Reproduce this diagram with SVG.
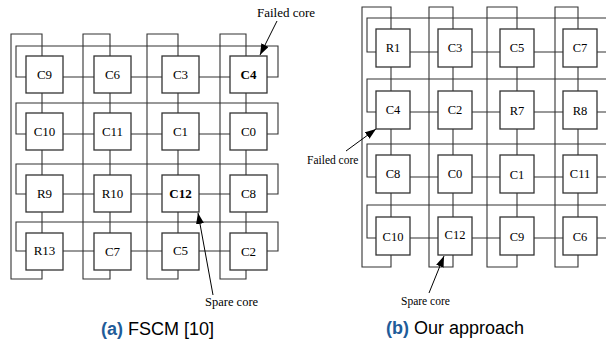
<svg xmlns="http://www.w3.org/2000/svg" width="606" height="343" viewBox="0 0 606 343">
<style>
.box{fill:#fff;stroke:#333;stroke-width:1.3}
.ln{fill:none;stroke:#333;stroke-width:1.1}
.lt{font-family:"Liberation Serif","Times New Roman",serif;font-size:13px;fill:#000;text-anchor:middle}
.rt{font-family:"Liberation Serif","Times New Roman",serif;font-size:12.5px;fill:#000;text-anchor:middle}
.b{font-weight:bold}
.lab{font-family:"Liberation Serif","Times New Roman",serif;fill:#000}
.arr{fill:none;stroke:#000;stroke-width:1;marker-end:url(#ah)}
.cap{font-family:"Liberation Sans",Arial,sans-serif;font-size:18px;fill:#000}
.capb{font-weight:bold;fill:#1f5c99}
</style>
<defs>
<marker id="ah" markerUnits="userSpaceOnUse" markerWidth="12" markerHeight="10" refX="11" refY="4" orient="auto">
<path d="M0,0 L11,4 L0,8 Z" fill="#000"/>
</marker>
</defs>
<rect width="606" height="343" fill="#fff"/>

<g id="connectors">
<!-- left: row links -->
<path class="ln" d="M63 77H94M131 77H162M199 77H230"/>
<path class="ln" d="M63 134H94M131 134H162M199 134H230"/>
<path class="ln" d="M63 194H94M131 194H162M199 194H230"/>
<path class="ln" d="M63 251H94M131 251H162M199 251H230"/>
<!-- left: column links -->
<path class="ln" d="M42 93V113M42 150V175M42 212V233"/>
<path class="ln" d="M110 93V113M110 150V175M110 212V233"/>
<path class="ln" d="M178 93V113M178 150V175M178 212V233"/>
<path class="ln" d="M246 93V113M246 150V175M246 212V233"/>
<!-- left: row wraps -->
<path class="ln" d="M26 77H16V46H278V77H267"/>
<path class="ln" d="M26 134H16V103H278V134H267"/>
<path class="ln" d="M26 194H16V164H278V194H267"/>
<path class="ln" d="M26 251H16V222H278V251H267"/>
<!-- left: column wraps -->
<path class="ln" d="M42 56V34H11V279H42V270"/>
<path class="ln" d="M110 56V34H83V279H110V270"/>
<path class="ln" d="M178 56V34H147V279H178V270"/>
<path class="ln" d="M246 56V34H220V279H246V270"/>

<!-- right: row links -->
<path class="ln" d="M410 52H438M472 52H500M534 52H563M597 52H606"/>
<path class="ln" d="M410 112H438M472 112H500M534 112H563M597 112H606"/>
<path class="ln" d="M410 177H438M472 177H500M534 177H563M597 177H606"/>
<path class="ln" d="M410 238H438M472 238H500M534 238H563M597 238H606"/>
<!-- right: column links -->
<path class="ln" d="M391 67V91M391 129V155M391 193V217"/>
<path class="ln" d="M453 67V91M453 129V155M453 193V217"/>
<path class="ln" d="M517 67V91M517 129V155M517 193V217"/>
<path class="ln" d="M578 67V91M578 129V155M578 193V217"/>
<!-- right: row wraps -->
<path class="ln" d="M376 52H367V18H606"/>
<path class="ln" d="M376 112H367V79H606"/>
<path class="ln" d="M376 177H367V144H606"/>
<path class="ln" d="M376 238H367V205H606"/>
<!-- right: column wraps -->
<path class="ln" d="M391 29V7H362V267H391V255"/>
<path class="ln" d="M453 29V7H429V267H453V255"/>
<path class="ln" d="M517 29V7H487V267H517V255"/>
<path class="ln" d="M578 29V7H555V267H578V255"/>

<!-- annotation arrows -->
<path class="arr" d="M277 21L260 55"/>
<path class="arr" d="M213 295L198 213"/>
<path class="arr" d="M346 151L376 129"/>
<path class="arr" d="M429 293L444 256"/>
</g>

<!-- left grid nodes -->
<g id="L-C9"><rect class="box" x="26" y="56" width="37" height="37"/><text class="lt" x="44.5" y="79">C9</text></g>
<g id="L-C6"><rect class="box" x="94" y="56" width="37" height="37"/><text class="lt" x="112.5" y="79">C6</text></g>
<g id="L-C3"><rect class="box" x="162" y="56" width="37" height="37"/><text class="lt" x="180.5" y="79">C3</text></g>
<g id="L-C4"><rect class="box" x="230" y="56" width="37" height="37"/><text class="lt b" x="248.5" y="79">C4</text></g>

<g id="L-C10"><rect class="box" x="26" y="113" width="37" height="37"/><text class="lt" x="44.5" y="136">C10</text></g>
<g id="L-C11"><rect class="box" x="94" y="113" width="37" height="37"/><text class="lt" x="112.5" y="136">C11</text></g>
<g id="L-C1"><rect class="box" x="162" y="113" width="37" height="37"/><text class="lt" x="180.5" y="136">C1</text></g>
<g id="L-C0"><rect class="box" x="230" y="113" width="37" height="37"/><text class="lt" x="248.5" y="136">C0</text></g>

<g id="L-R9"><rect class="box" x="26" y="175" width="37" height="37"/><text class="lt" x="44.5" y="198">R9</text></g>
<g id="L-R10"><rect class="box" x="94" y="175" width="37" height="37"/><text class="lt" x="112.5" y="198">R10</text></g>
<g id="L-C12"><rect class="box" x="162" y="175" width="37" height="37"/><text class="lt b" x="180.5" y="198">C12</text></g>
<g id="L-C8"><rect class="box" x="230" y="175" width="37" height="37"/><text class="lt" x="248.5" y="198">C8</text></g>

<g id="L-R13"><rect class="box" x="26" y="233" width="37" height="37"/><text class="lt" x="44.5" y="255">R13</text></g>
<g id="L-C7"><rect class="box" x="94" y="233" width="37" height="37"/><text class="lt" x="112.5" y="256">C7</text></g>
<g id="L-C5"><rect class="box" x="162" y="233" width="37" height="37"/><text class="lt" x="180.5" y="255">C5</text></g>
<g id="L-C2"><rect class="box" x="230" y="233" width="37" height="37"/><text class="lt" x="248.5" y="256">C2</text></g>

<!-- right grid nodes -->
<g id="R-R1"><rect class="box" x="376" y="29" width="34" height="38"/><text class="rt" x="393" y="52">R1</text></g>
<g id="R-C3"><rect class="box" x="438" y="29" width="34" height="38"/><text class="rt" x="455" y="52">C3</text></g>
<g id="R-C5"><rect class="box" x="500" y="29" width="34" height="38"/><text class="rt" x="517" y="52">C5</text></g>
<g id="R-C7"><rect class="box" x="563" y="29" width="34" height="38"/><text class="rt" x="580" y="52">C7</text></g>

<g id="R-C4"><rect class="box" x="376" y="91" width="34" height="38"/><text class="rt" x="393" y="114">C4</text></g>
<g id="R-C2"><rect class="box" x="438" y="91" width="34" height="38"/><text class="rt" x="455" y="114">C2</text></g>
<g id="R-R7"><rect class="box" x="500" y="91" width="34" height="38"/><text class="rt" x="517" y="115">R7</text></g>
<g id="R-R8"><rect class="box" x="563" y="91" width="34" height="38"/><text class="rt" x="580" y="115">R8</text></g>

<g id="R-C8"><rect class="box" x="376" y="155" width="34" height="38"/><text class="rt" x="393" y="178">C8</text></g>
<g id="R-C0"><rect class="box" x="438" y="155" width="34" height="38"/><text class="rt" x="455" y="178">C0</text></g>
<g id="R-C1"><rect class="box" x="500" y="155" width="34" height="38"/><text class="rt" x="517" y="179">C1</text></g>
<g id="R-C11"><rect class="box" x="563" y="155" width="34" height="38"/><text class="rt" x="580" y="178">C11</text></g>

<g id="R-C10"><rect class="box" x="376" y="217" width="34" height="38"/><text class="rt" x="393" y="241">C10</text></g>
<g id="R-C12"><rect class="box" x="438" y="217" width="34" height="38"/><text class="rt" x="455" y="239">C12</text></g>
<g id="R-C9"><rect class="box" x="500" y="217" width="34" height="38"/><text class="rt" x="517" y="241">C9</text></g>
<g id="R-C6"><rect class="box" x="563" y="217" width="34" height="38"/><text class="rt" x="580" y="241">C6</text></g>

<!-- annotation labels -->
<g id="labels">
<text class="lab" x="257" y="17" font-size="13">Failed core</text>
<text class="lab" x="205" y="306" font-size="12.5">Spare core</text>
<text class="lab" x="307" y="164" font-size="11.5">Failed core</text>
<text class="lab" x="401" y="305" font-size="11.5">Spare core</text>
</g>

<g id="captions">
<text class="cap" x="101" y="335"><tspan class="capb">(a)</tspan> FSCM [10]</text>
<text class="cap" x="386" y="334"><tspan class="capb">(b)</tspan> Our approach</text>
</g>
</svg>
